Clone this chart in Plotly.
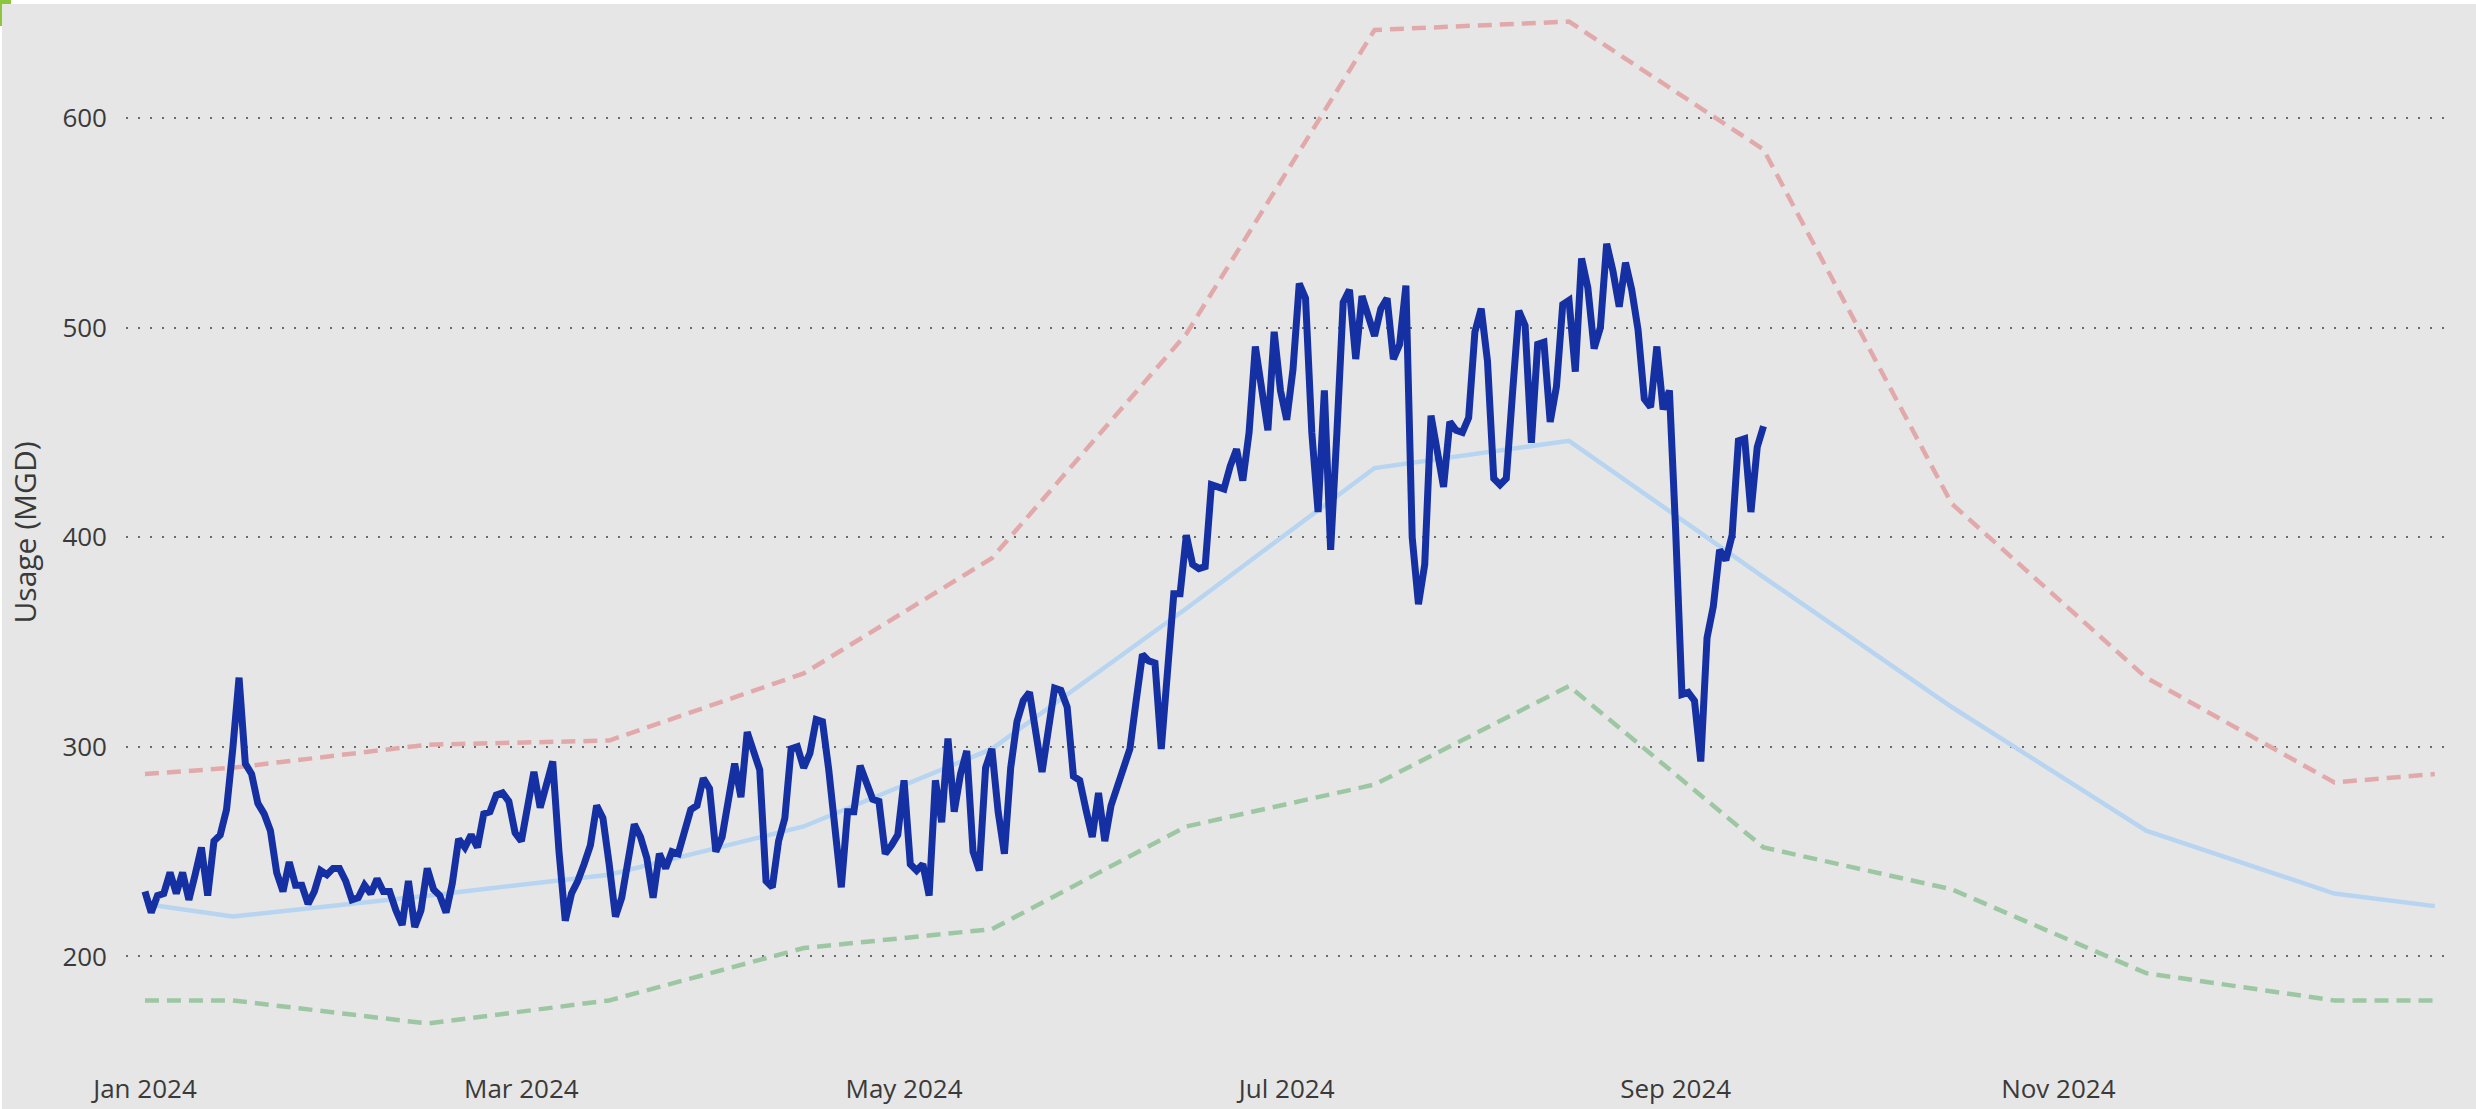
import pandas as pd
import plotly.graph_objects as go

# ---------------- data ----------------
start_date = "2024-01-01"
daily_usage = [
    231, 221, 229, 230, 240, 230, 240, 227, 239, 252,
    229, 255, 258, 270, 299, 333, 292, 287, 273, 268,
    260, 240, 231, 245, 234, 234, 225, 231, 241, 239,
    242, 242, 236, 227, 228, 234, 230, 237, 231, 231,
    222, 215, 236, 214, 222, 242, 232, 229, 221, 235,
    256, 252, 258, 252, 268, 269, 277, 278, 274, 259,
    255, 274, 288, 271, 282, 293, 250, 217, 230, 236,
    244, 253, 272, 266, 244, 219, 228, 244, 263, 257,
    247, 228, 249, 242, 250, 249, 260, 270, 272, 285,
    280, 250, 257, 276, 292, 276, 307, 298, 289, 236,
    233, 255, 266, 299, 300, 290, 297, 313, 312, 289,
    261, 233, 269, 269, 291, 284, 275, 274, 249, 253,
    258, 284, 244, 241, 244, 229, 284, 264, 304, 269,
    287, 298, 250, 241, 290, 299, 269, 249, 290, 312,
    322, 326, 305, 288, 308, 328, 327, 319, 286, 284,
    270, 257, 278, 255, 272, 281, 288, 299, 322, 344,
    341, 340, 299, 340, 373, 373, 401, 387, 385, 386,
    425, 424, 423, 434, 442, 427, 450, 491, 471, 451,
    498, 470, 456, 480, 521, 514, 450, 412, 470, 394,
    450, 512, 518, 485, 515, 505, 496, 509, 514, 485,
    492, 520, 400, 368, 387, 458, 441, 424, 455, 451,
    450, 457, 498, 509, 484, 428, 425, 428, 469, 508,
    501, 445, 492, 493, 455, 472, 511, 513, 479, 533,
    519, 490, 500, 540, 527, 510, 531, 518, 499, 466,
    462, 491, 461, 470, 403, 325, 326, 322, 293, 352,
    367, 394, 389, 401, 446, 447, 412, 443, 453,
]
daily_dates = pd.date_range(start_date, periods=len(daily_usage), freq="D")

monthly_dates = [
    "2024-01-01", "2024-01-15", "2024-02-15", "2024-03-15", "2024-04-15",
    "2024-05-15", "2024-06-15", "2024-07-15", "2024-08-15", "2024-09-15",
    "2024-10-15", "2024-11-15", "2024-12-15", "2024-12-31",
]
monthly_average = [225, 219, 229, 239, 262, 299, 366, 433, 446, 381, 319, 260, 230, 224]
upper_bound = [287, 290, 301, 303, 335, 390, 497, 642, 646, 585, 416, 333, 283, 287]
lower_bound = [179, 179, 168, 179, 204, 213, 262, 282, 329, 252, 232, 192, 179, 179]

y_ticks = [200, 300, 400, 500, 600]

# ---------------- figure ----------------
W, H = 2476, 1109
ML, MR, MT, MB = 126, 30, 0, 44
PW, PH = W - ML - MR, H - MT - MB

fig = go.Figure()
fig.add_trace(go.Scatter(x=monthly_dates, y=monthly_average, mode="lines",
                         line=dict(color="#B7D4F1", width=4.5), hoverinfo="skip"))
fig.add_trace(go.Scatter(x=monthly_dates, y=upper_bound, mode="lines",
                         line=dict(color="#E2A9AB", width=4.5, dash="14px,8px"), hoverinfo="skip"))
fig.add_trace(go.Scatter(x=monthly_dates, y=lower_bound, mode="lines",
                         line=dict(color="#9CC7A2", width=4.5, dash="14px,8px"), hoverinfo="skip"))
fig.add_trace(go.Scatter(x=daily_dates, y=daily_usage, mode="lines",
                         line=dict(color="#1530A3", width=7), hoverinfo="skip"))


def px_to_paper_x(px):
    return (px - ML) / PW


def px_to_paper_y(py):
    return 1 - (py - MT) / PH


shapes = [
    # thin white frame at top and left edges
    dict(type="rect", xref="paper", yref="paper", x0=px_to_paper_x(0), x1=px_to_paper_x(W),
         y0=px_to_paper_y(4), y1=px_to_paper_y(0), fillcolor="white", line_width=0, layer="above"),
    dict(type="rect", xref="paper", yref="paper", x0=px_to_paper_x(0), x1=px_to_paper_x(2),
         y0=px_to_paper_y(H), y1=px_to_paper_y(0), fillcolor="white", line_width=0, layer="above"),
    # green corner marker
    dict(type="rect", xref="paper", yref="paper", x0=px_to_paper_x(0), x1=px_to_paper_x(11),
         y0=px_to_paper_y(4), y1=px_to_paper_y(0), fillcolor="#8CC63F", line_width=0, layer="above"),
    dict(type="rect", xref="paper", yref="paper", x0=px_to_paper_x(0), x1=px_to_paper_x(2),
         y0=px_to_paper_y(26), y1=px_to_paper_y(0), fillcolor="#8CC63F", line_width=0, layer="above"),
]

fig.update_layout(
    width=W, height=H,
    margin=dict(l=ML, r=MR, t=MT, b=MB, pad=0),
    paper_bgcolor="#E6E6E6", plot_bgcolor="#E6E6E6",
    showlegend=False,
    font=dict(family="Open Sans, sans-serif", size=26, color="#3A3A3A"),
    shapes=shapes,
    xaxis=dict(
        type="date",
        range=["2023-12-28 23:30", "2025-01-01 19:00"],
        tick0="2024-01-01", dtick="M2", tickformat="%b %Y",
        showgrid=False, zeroline=False, showline=False, ticks="",
        tickfont=dict(size=26, color="#3A3A3A"),
        ticklabelstandoff=6,
    ),
    yaxis=dict(
        range=[148.2, 656.3],
        tickmode="array", tickvals=y_ticks, ticktext=[str(v) for v in y_ticks],
        showgrid=True, gridcolor="#6A6A6A", gridwidth=2, griddash="2px,10px",
        zeroline=False, showline=False, ticks="",
        tickfont=dict(size=26, color="#3A3A3A"),
        ticklabelstandoff=18,
        title=dict(text="Usage (MGD)", font=dict(size=30, color="#3A3A3A"), standoff=16),
        automargin=False,
    ),
)

fig.write_html(
    "out.html",
    config={"displayModeBar": False},
    post_script="document.body.style.margin='0';document.body.style.overflow='hidden';",
)
